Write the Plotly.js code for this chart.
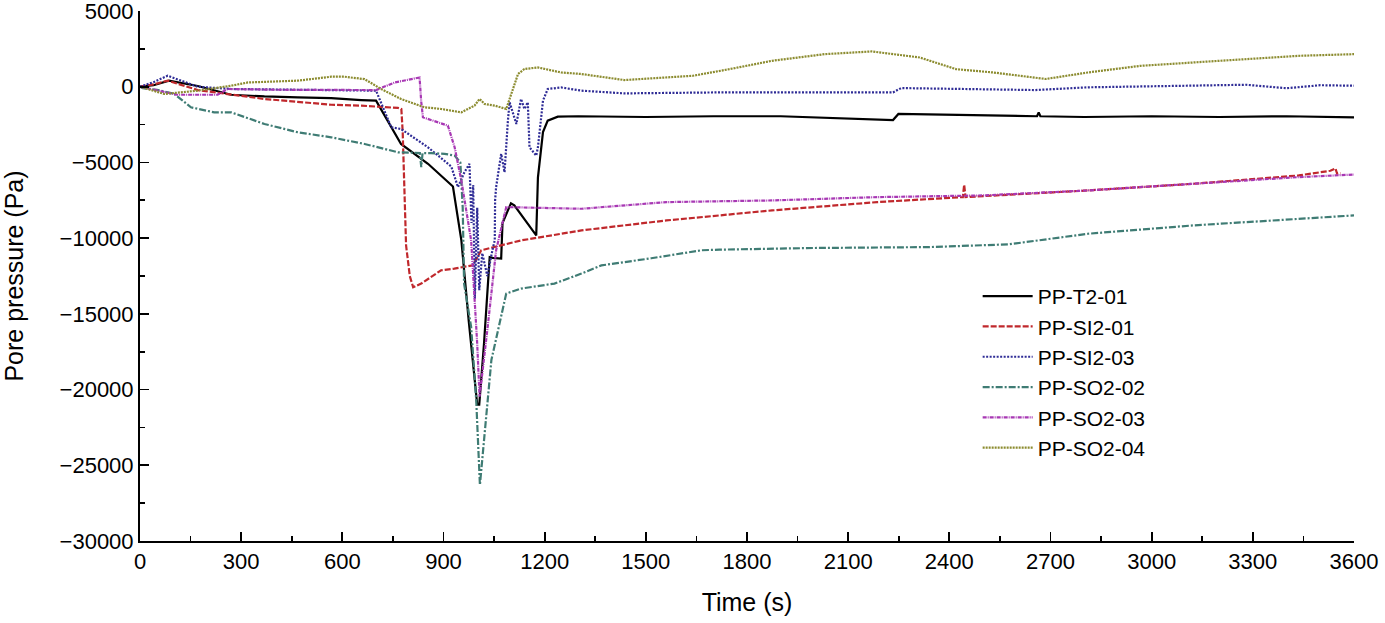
<!DOCTYPE html>
<html>
<head>
<meta charset="utf-8">
<script src="https://cdn.plot.ly/plotly-3.0.1.min.js"></script>
<style>html,body{margin:0;padding:0;background:#fff;}#chart{width:1385px;height:623px;}</style>
</head>
<body>
<div id="chart"></div>
<script>
// ---- data ----
const seriesNames = ["PP-T2-01", "PP-SI2-01", "PP-SI2-03", "PP-SO2-02", "PP-SO2-03", "PP-SO2-04"];

const t_T201 = [0, 40, 86, 171, 270, 369, 468, 567, 656, 690, 700, 774, 854, 928, 953, 975, 1000, 1006, 1020, 1037, 1045, 1071, 1075, 1100, 1110, 1175, 1180, 1195, 1209, 1239, 1300, 1500, 1700, 1900, 2108, 2233, 2249, 2400, 2600, 2660, 2665, 2670, 2800, 3000, 3200, 3400, 3600];
const v_T201 = [0, 100, 400, 50, -530, -640, -700, -760, -880, -900, -920, -3780, -5090, -6590, -10150, -15500, -21000, -21000, -17000, -11260, -11300, -11350, -9000, -7700, -7840, -9820, -6000, -3000, -2240, -1980, -1950, -2000, -1950, -1950, -2130, -2200, -1800, -1870, -1950, -1950, -1700, -1950, -2000, -1950, -2000, -1950, -2020];

const t_SI201 = [0, 40, 82, 171, 369, 567, 656, 765, 775, 779, 789, 800, 810, 834, 893, 932, 987, 1000, 1012, 1130, 1309, 1561, 1874, 2186, 2440, 2444, 2448, 2811, 3123, 3436, 3530, 3545, 3550, 3560];
const v_SI201 = [0, 150, 400, -220, -810, -1190, -1250, -1400, -1470, -3000, -10470, -12500, -13240, -13000, -12120, -12010, -11790, -11300, -10800, -10150, -9490, -8830, -8170, -7620, -7290, -6470, -7290, -6850, -6410, -5860, -5550, -5400, -5750, -5700];

const t_SI203 = [0, 40, 82, 171, 270, 500, 700, 745, 774, 854, 923, 943, 962, 977, 983, 988, 993, 1000, 1006, 1015, 1030, 1045, 1052, 1053, 1056, 1071, 1081, 1091, 1096, 1116, 1130, 1140, 1150, 1155, 1175, 1180, 1195, 1209, 1249, 1309, 1436, 1718, 2233, 2257, 2655, 2811, 3280, 3400, 3500, 3600];
const v_SI203 = [0, 300, 725, 0, -150, -220, -260, -2680, -2790, -4000, -5270, -6630, -5650, -5090, -9000, -6500, -14000, -8000, -13440, -11000, -12500, -10800, -10140, -7500, -6630, -4430, -5650, -2240, -1030, -2460, -810, -1470, -1030, -4000, -4550, -4000, -920, -150, -50, -260, -440, -375, -375, -90, -220, -40, 130, -100, 100, 65];

const t_SO202 = [0, 8, 50, 102, 151, 220, 270, 369, 468, 567, 666, 765, 800, 830, 834, 838, 863, 903, 933, 950, 957, 961, 982, 997, 1008, 1027, 1042, 1086, 1130, 1229, 1309, 1368, 1516, 1665, 1718, 2000, 2341, 2576, 2811, 3123, 3436, 3600];
const v_SO202 = [0, -90, -200, -480, -1360, -1690, -1690, -2460, -3010, -3340, -3780, -4330, -4350, -4380, -5310, -4380, -4390, -4430, -4550, -5000, -8000, -13000, -15860, -20700, -26300, -21800, -18050, -13660, -13330, -13000, -12340, -11800, -11330, -10800, -10760, -10650, -10590, -10410, -9710, -9160, -8720, -8500];

const t_SO203 = [0, 60, 110, 230, 260, 400, 600, 700, 755, 824, 829, 834, 839, 913, 933, 953, 982, 1000, 1007, 1031, 1056, 1086, 1309, 1561, 1874, 2186, 2498, 2811, 3123, 3436, 3600];
const v_SO203 = [0, -300, -530, -530, -150, -200, -220, -220, 280, 570, 610, -1000, -2020, -2570, -4000, -6200, -10150, -17000, -20470, -15860, -10800, -7950, -8060, -7620, -7510, -7290, -7180, -6850, -6410, -5970, -5800];

const t_SO204 = [0, 72, 171, 270, 320, 468, 567, 606, 666, 715, 774, 844, 893, 953, 992, 1007, 1022, 1052, 1086, 1121, 1140, 1180, 1249, 1309, 1436, 1640, 1748, 1874, 2030, 2170, 2312, 2420, 2530, 2686, 2811, 2967, 3123, 3280, 3436, 3600];
const v_SO204 = [0, -480, -260, 65, 280, 400, 660, 660, 500, -150, -810, -1360, -1470, -1690, -1250, -810, -1140, -1250, -1470, 840, 1170, 1270, 940, 840, 440, 725, 1160, 1710, 2150, 2330, 1930, 1160, 940, 510, 940, 1380, 1600, 1820, 2040, 2150];

const xTickVals = [0, 300, 600, 900, 1200, 1500, 1800, 2100, 2400, 2700, 3000, 3300, 3600];
const yTickVals = [5000, 0, -5000, -10000, -15000, -20000, -25000, -30000];

// ---- styling ----
const colors = ["#000000", "#c0282c", "#2f2c96", "#3f7c74", "#a838b4", "#8c8c30"];
const dashes = ["solid", "6px,2px", "2px,1.5px", "7px,2px,2px,2px", "4px,1px,1px,1px", "2px,1px"];
const xs = [t_T201, t_SI201, t_SI203, t_SO202, t_SO203, t_SO204];
const ys = [v_T201, v_SI201, v_SI203, v_SO202, v_SO203, v_SO204];

const traces = seriesNames.map((n, i) => ({
  x: xs[i], y: ys[i], name: n, type: "scatter", mode: "lines",
  line: {color: colors[i], width: 2.2, dash: dashes[i]}
}));

const fam = "Liberation Sans, Arial, sans-serif";
const tickFont = {family: fam, size: 22, color: "#000"};
const titleFont = {family: fam, size: 25, color: "#000"};
const legendFont = {family: fam, size: 21, color: "#000"};

const layout = {
  width: 1385, height: 623,
  margin: {l: 140, r: 31, t: 11, b: 82},
  paper_bgcolor: "#fff", plot_bgcolor: "#fff",
  font: tickFont,
  showlegend: true,
  legend: {x: 0.69, y: 0.5, xanchor: "left", yanchor: "top", bgcolor: "rgba(0,0,0,0)",
           font: legendFont, itemwidth: 50, tracegroupgap: 0},
  xaxis: {
    range: [0, 3600], tickvals: xTickVals, ticktext: xTickVals.map(String),
    ticks: "inside", ticklen: 9, tickwidth: 1.8, tickcolor: "#000",
    minor: {dtick: 150, ticks: "inside", ticklen: 5, tickwidth: 1.8, tickcolor: "#000", showgrid: false},
    showline: true, linecolor: "#000", linewidth: 2, showgrid: false, zeroline: false,
    ticklabeloverflow: "allow",
    tickfont: tickFont, title: {text: "Time (s)", font: titleFont, standoff: 20}
  },
  yaxis: {
    range: [-30000, 5000], tickvals: yTickVals, ticktext: yTickVals.map(v => v < 0 ? "\u2212" + Math.abs(v) : String(v)),
    ticks: "inside", ticklen: 9, tickwidth: 1.8, tickcolor: "#000",
    minor: {dtick: 2500, ticks: "inside", ticklen: 5, tickwidth: 1.8, tickcolor: "#000", showgrid: false},
    showline: true, linecolor: "#000", linewidth: 2, showgrid: false, zeroline: false,
    ticklabeloverflow: "allow",
    tickfont: tickFont, title: {text: "Pore pressure (Pa)", font: titleFont, standoff: 32}
  }
};

Plotly.newPlot("chart", traces, layout, {displayModeBar: false, staticPlot: true});
</script>
</body>
</html>
